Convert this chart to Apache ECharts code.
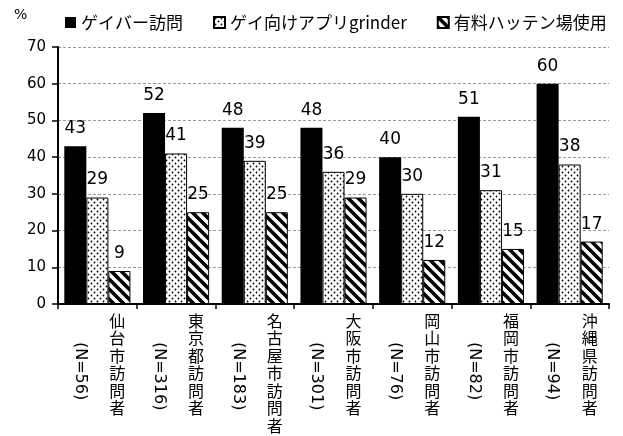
<!DOCTYPE html>
<html>
<head>
<meta charset="utf-8">
<style>
  html, body { margin: 0; padding: 0; background: #fff; }
  #chart { width: 623px; height: 436px; }
</style>
<script src="https://cdn.jsdelivr.net/npm/echarts@6/dist/echarts.min.js"></script>
</head>
<body>
<div id="chart"></div>
<script>
// Survey categories and sample sizes
const cities = ['仙台市訪問者', '東京都訪問者', '名古屋市訪問者', '大阪市訪問者', '岡山市訪問者', '福岡市訪問者', '沖縄県訪問者'];
const sampleSizes = ['(N=56)', '(N=316)', '(N=183)', '(N=301)', '(N=76)', '(N=82)', '(N=94)'];

// Percentages per channel
const seriesNames = ['ゲイバー訪問', 'ゲイ向けアプリgrinder', '有料ハッテン場使用'];
const gayBar = [43, 52, 48, 48, 40, 51, 60];
const appGrinder = [29, 41, 39, 36, 30, 31, 38];
const paidVenue = [9, 25, 25, 29, 12, 15, 17];

const yTicks = { min: 0, max: 70, interval: 10 };

// Fill patterns: dots and backslash hatching
function dotPattern() {
  const c = document.createElement('canvas');
  c.width = 6; c.height = 6;
  const g = c.getContext('2d');
  g.fillStyle = '#fff'; g.fillRect(0, 0, 6, 6);
  g.fillStyle = '#000';
  g.beginPath(); g.arc(1.5, 1.5, 0.9, 0, Math.PI * 2); g.fill();
  g.beginPath(); g.arc(4.5, 4.5, 0.9, 0, Math.PI * 2); g.fill();
  return c;
}
function hatchPattern() {
  const s = 10;
  const c = document.createElement('canvas');
  c.width = s; c.height = s;
  const g = c.getContext('2d');
  g.fillStyle = '#fff'; g.fillRect(0, 0, s, s);
  g.strokeStyle = '#000'; g.lineWidth = 3.6;
  g.beginPath();
  g.moveTo(-1, -1); g.lineTo(s + 1, s + 1);
  g.moveTo(-1, s - 1); g.lineTo(1, s + 1);
  g.moveTo(s - 1, -1); g.lineTo(s + 1, 1);
  g.stroke();
  return c;
}

const chart = echarts.init(document.getElementById('chart'), null, { renderer: 'canvas' });

const valueLabel = {
  show: true,
  position: 'top',
  distance: 9,
  color: '#000',
  fontSize: 17,
  fontFamily: 'DejaVu Sans'
};

function bar(name, data, color, border) {
  return {
    name: name,
    type: 'bar',
    data: data,
    barGap: '0%',
    barCategoryGap: '16%',
    itemStyle: { color: color, borderColor: '#000', borderWidth: border },
    label: valueLabel,
    emphasis: { disabled: true }
  };
}

chart.setOption({
  animation: false,
  backgroundColor: '#fff',
  title: {
    text: '%',
    left: 9,
    top: 3,
    textStyle: { fontSize: 14, fontWeight: 'normal', color: '#000', fontFamily: 'DejaVu Sans' }
  },
  legend: {
    left: 60,
    top: 9,
    icon: 'rect',
    itemWidth: 11,
    itemHeight: 11,
    itemGap: 30,
    textStyle: { fontSize: 17, color: '#000', fontFamily: 'Noto Sans CJK JP' },
    data: seriesNames
  },
  grid: { left: 58, right: 14, top: 47, bottom: 132 },
  xAxis: [
    {
      type: 'category',
      position: 'bottom',
      data: cities,
      axisLine: { lineStyle: { color: '#000', width: 2 } },
      axisTick: { show: true, length: 5, lineStyle: { color: '#000', width: 1.5 } },
      axisLabel: {
        interval: 0,
        margin: 8,
        color: '#000',
        fontSize: 16,
        lineHeight: 17.5,
        fontFamily: 'Noto Sans CJK JP',
        verticalAlign: 'top',
        align: 'left',
        padding: [0, 0, 0, 12],
        formatter: function (v) { return v.split('').join('\n'); }
      }
    },
    {
      type: 'category',
      position: 'bottom',
      data: sampleSizes,
      axisLine: { show: false },
      axisTick: { show: false },
      axisLabel: {
        interval: 0,
        rotate: -90,
        margin: 38,
        color: '#000',
        fontSize: 16,
        lineHeight: 16,
        fontFamily: 'DejaVu Sans',
        align: 'left',
        verticalAlign: 'top',
        padding: [9, 0, 0, 0]
      }
    }
  ],
  yAxis: {
    type: 'value',
    min: yTicks.min,
    max: yTicks.max,
    interval: yTicks.interval,
    axisLine: { show: true, lineStyle: { color: '#000', width: 2 } },
    axisTick: { show: true, length: 6, lineStyle: { color: '#000', width: 1.5 } },
    axisLabel: { color: '#000', fontSize: 15, margin: 12, fontFamily: 'DejaVu Sans' },
    splitLine: { show: true, lineStyle: { color: '#999', width: 1, type: [3, 2] } }
  },
  series: [
    bar(seriesNames[0], gayBar, '#000', 0),
    bar(seriesNames[1], appGrinder, { image: dotPattern(), repeat: 'repeat' }, 1),
    bar(seriesNames[2], paidVenue, { image: hatchPattern(), repeat: 'repeat' }, 1)
  ]
});
</script>
</body>
</html>
